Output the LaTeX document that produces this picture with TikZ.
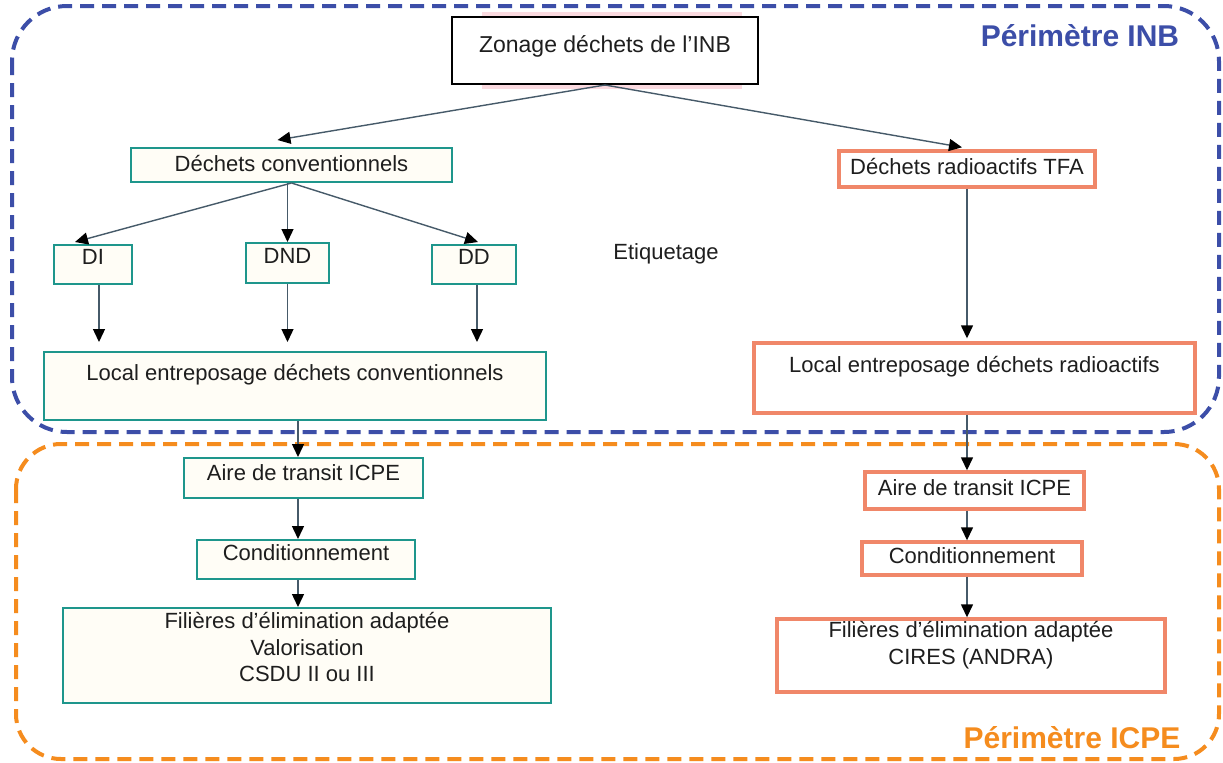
\documentclass[tikz,border=0pt]{standalone}
\usepackage{fontspec}
\setmainfont{Liberation Sans}
\usetikzlibrary{arrows.meta,fit,calc}
\definecolor{inbblue}{RGB}{60,78,168}
\definecolor{icpeorange}{RGB}{245,140,30}
\definecolor{tealb}{RGB}{30,150,140}
\definecolor{salmon}{RGB}{240,135,105}
\definecolor{txtc}{RGB}{30,30,30}
\definecolor{linec}{RGB}{70,90,105}
\definecolor{creamfill}{RGB}{255,253,246}
\definecolor{pinkband}{RGB}{251,218,224}
\newcommand\bx[8]{%
  \node[#2, fit={(#3,#4) (#5,#6)}] (#1) {};
  \node[lbl] (#1-t) at ({(#3+#5)/2},#8) {#7};}
\begin{document}
\begin{tikzpicture}[x=0.5pt,y=-0.5pt,
  every node/.style={font=\fontsize{11}{13.25}\selectfont, text=txtc},
  cbox/.style={draw=tealb, line width=1pt, fill=creamfill, inner sep=0pt},
  rbox/.style={draw=salmon, line width=1.7pt, fill=white, inner sep=0pt},
  zbox/.style={draw=black, line width=1pt, fill=white, inner sep=0pt},
  lbl/.style={inner sep=0pt, align=center},
  arr/.style={draw=linec, line width=0.7pt, -{Triangle[width=6pt,length=6.5pt,color=black]}},
  perim/.style={line width=2pt, dash pattern=on 7pt off 4pt, rounded corners=#1},
  perimlbl/.style={font=\bfseries\fontsize{15}{18}\selectfont, inner sep=0pt},
]
\useasboundingbox (0,0) rectangle (1223,762);
\fill[white] (0,0) rectangle (1223,762);

% perimeters
\draw[perim=27.5pt, draw=inbblue] (12,6) rectangle (1219,432);
\draw[perim=22.5pt, draw=icpeorange] (16,444) rectangle (1219,759);
\node[perimlbl, text=inbblue] (pinb) at (1080,36) {Périmètre INB};
\node[perimlbl, text=icpeorange] (picpe) at (1072,738) {Périmètre ICPE};

% top box
\fill[pinkband] (482,12) rectangle (742,89);
\bx{zon}{zbox}{452}{17}{758}{84}{\fontsize{11.5}{14}\selectfont Zonage déchets de l’INB}{46}

% left branch
\bx{dc}{cbox}{131}{148}{452}{182}{Déchets conventionnels}{164}
\bx{di}{cbox}{54}{245}{132}{284}{DI}{257}
\bx{dnd}{cbox}{246}{243}{329}{283}{DND}{256}
\bx{dd}{cbox}{432}{245}{516}{284}{DD}{257}
\bx{lc}{cbox}{44}{352}{546}{420}{Local entreposage déchets conventionnels}{375}
\bx{al}{cbox}{184}{458}{423}{498}{Aire de transit ICPE}{473}
\bx{cl}{cbox}{197}{540}{415}{579}{Conditionnement}{553}
\bx{fl}{cbox}{63}{608}{551}{703}{Filières d’élimination adaptée\\Valorisation\\CSDU II ou III}{647}

% right branch
\bx{tfa}{rbox}{839}{151}{1095}{187}{Déchets radioactifs TFA}{167}
\bx{lr}{rbox}{754}{343}{1195}{413}{Local entreposage déchets radioactifs}{367}
\bx{ar}{rbox}{865}{472}{1084}{509}{Aire de transit ICPE}{488}
\bx{cr}{rbox}{862}{542}{1082}{575}{Conditionnement}{556}
\bx{fr}{rbox}{777}{619}{1165}{692}{Filières d’élimination adaptée\\CIRES (ANDRA)}{645}

\node[lbl] (etiq) at (666,254) {Etiquetage};

\coordinate (colL) at (298,0);
\coordinate (colR) at (967,0);

% connectors
\draw[arr] (zon.south) -- ([xshift=-7pt,yshift=3.5pt]dc.north);
\draw[arr] (zon.south) -- ([xshift=-2.5pt,yshift=1pt]tfa.north);
\draw[arr] (dc.south) -- ([xshift=-9pt,yshift=1pt]di.north);
\draw[arr] (dc.south -| dnd.north) -- (dnd.north);
\draw[arr] (dc.south) -- ([xshift=2pt,yshift=1pt]dd.north);
\draw[arr, shorten >=4.5pt] ([xshift=3pt]di.south) -- ([xshift=3pt]di.south |- lc.north);
\draw[arr, shorten >=4.5pt] (dnd.south) -- (dnd.south |- lc.north);
\draw[arr, shorten >=4.5pt] ([xshift=1.5pt]dd.south) -- ([xshift=1.5pt]dd.south |- lc.north);
\draw[arr] (lc.south -| colL) -- (al.north -| colL);
\draw[arr] (al.south -| colL) -- (cl.north -| colL);
\draw[arr] (cl.south -| colL) -- (fl.north -| colL);
\draw[arr, shorten >=1.5pt] (tfa.south -| colR) -- (lr.north -| colR);
\draw[arr] (lr.south -| colR) -- (ar.north -| colR);
\draw[arr] (ar.south -| colR) -- (cr.north -| colR);
\draw[arr] (cr.south -| colR) -- (fr.north -| colR);
\end{tikzpicture}
\end{document}
